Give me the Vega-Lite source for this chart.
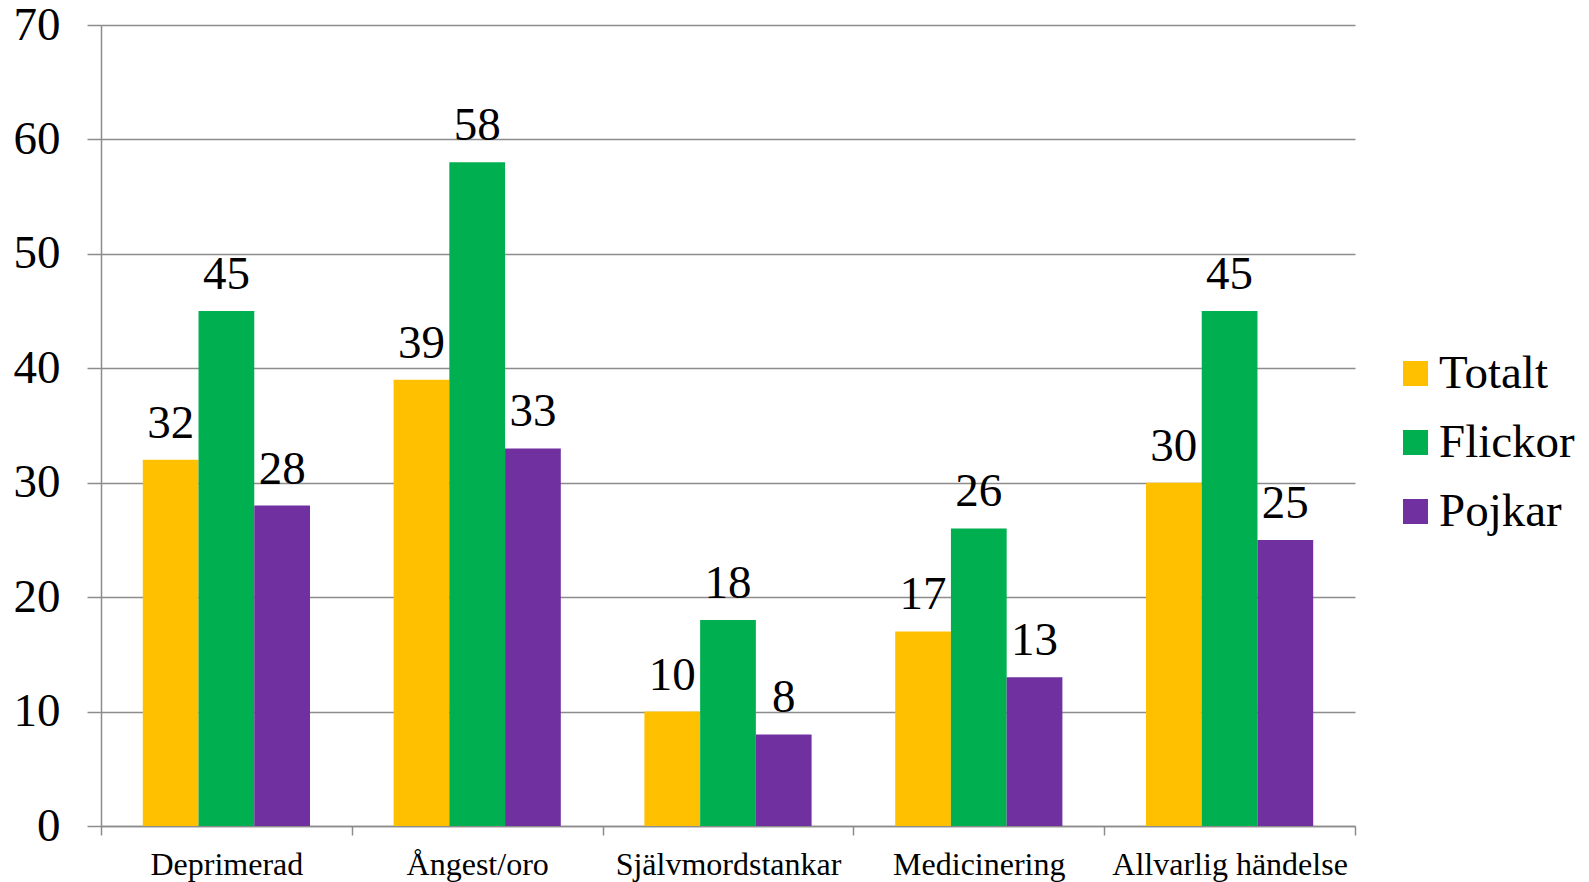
{
  "$schema": "https://vega.github.io/schema/vega-lite/v6.json",
  "width": 1254,
  "height": 801,
  "autosize": {"type": "none"},
  "padding": {"left": 101, "top": 25, "right": 234, "bottom": 56},
  "background": "white",
  "view": {"stroke": null},
  "data": {
    "values": [
      {"kategori": "Deprimerad", "grupp": "Totalt", "andel": 32},
      {"kategori": "Deprimerad", "grupp": "Flickor", "andel": 45},
      {"kategori": "Deprimerad", "grupp": "Pojkar", "andel": 28},
      {"kategori": "Ångest/oro", "grupp": "Totalt", "andel": 39},
      {"kategori": "Ångest/oro", "grupp": "Flickor", "andel": 58},
      {"kategori": "Ångest/oro", "grupp": "Pojkar", "andel": 33},
      {"kategori": "Självmordstankar", "grupp": "Totalt", "andel": 10},
      {"kategori": "Självmordstankar", "grupp": "Flickor", "andel": 18},
      {"kategori": "Självmordstankar", "grupp": "Pojkar", "andel": 8},
      {"kategori": "Medicinering", "grupp": "Totalt", "andel": 17},
      {"kategori": "Medicinering", "grupp": "Flickor", "andel": 26},
      {"kategori": "Medicinering", "grupp": "Pojkar", "andel": 13},
      {"kategori": "Allvarlig händelse", "grupp": "Totalt", "andel": 30},
      {"kategori": "Allvarlig händelse", "grupp": "Flickor", "andel": 45},
      {"kategori": "Allvarlig händelse", "grupp": "Pojkar", "andel": 25}
    ]
  },
  "encoding": {
    "x": {
      "field": "kategori",
      "type": "nominal",
      "sort": ["Deprimerad", "Ångest/oro", "Självmordstankar", "Medicinering", "Allvarlig händelse"],
      "scale": {"paddingInner": 0, "paddingOuter": 0},
      "axis": {
        "title": null,
        "labelAngle": 0,
        "labelLimit": 0,
        "tickBand": "extent",
        "tickSize": 9,
        "tickColor": "#8c8c8c",
        "tickWidth": 1.5,
        "domainColor": "#8c8c8c",
        "domainWidth": 1.5,
        "labelFont": "Liberation Serif, Times New Roman, serif",
        "labelFontSize": 32,
        "labelColor": "black",
        "labelPadding": 14,
        "grid": false
      }
    },
    "xOffset": {
      "field": "grupp",
      "sort": ["Totalt", "Flickor", "Pojkar"],
      "scale": {"paddingInner": 0, "paddingOuter": 0.75}
    },
    "y": {
      "field": "andel",
      "type": "quantitative",
      "scale": {"domain": [0, 70], "nice": false},
      "axis": {
        "title": null,
        "values": [0, 10, 20, 30, 40, 50, 60, 70],
        "grid": true,
        "gridColor": "#8c8c8c",
        "gridWidth": 1.5,
        "tickSize": 14,
        "tickColor": "#8c8c8c",
        "tickWidth": 1.5,
        "domainColor": "#8c8c8c",
        "domainWidth": 1.5,
        "labelFont": "Liberation Serif, Times New Roman, serif",
        "labelFontSize": 47,
        "labelColor": "black",
        "labelPadding": 27
      }
    }
  },
  "layer": [
    {
      "mark": {"type": "bar"},
      "encoding": {
        "color": {
          "field": "grupp",
          "type": "nominal",
          "sort": ["Totalt", "Flickor", "Pojkar"],
          "scale": {
            "domain": ["Totalt", "Flickor", "Pojkar"],
            "range": ["#FFC000", "#00B050", "#7030A0"]
          },
          "legend": {
            "title": null,
            "orient": "none",
            "legendX": 1291,
            "legendY": 325,
            "symbolType": "square",
            "symbolSize": 625,
            "symbolStrokeWidth": 0,
            "labelFont": "Liberation Serif, Times New Roman, serif",
            "labelFontSize": 47,
            "labelColor": "black",
            "labelOffset": 0,
            "labelLimit": 0,
            "rowPadding": 21
          }
        }
      }
    },
    {
      "mark": {
        "type": "text",
        "baseline": "alphabetic",
        "dy": -22,
        "font": "Liberation Serif, Times New Roman, serif",
        "fontSize": 47,
        "color": "black"
      },
      "encoding": {"text": {"field": "andel", "type": "quantitative"}}
    }
  ]
}
